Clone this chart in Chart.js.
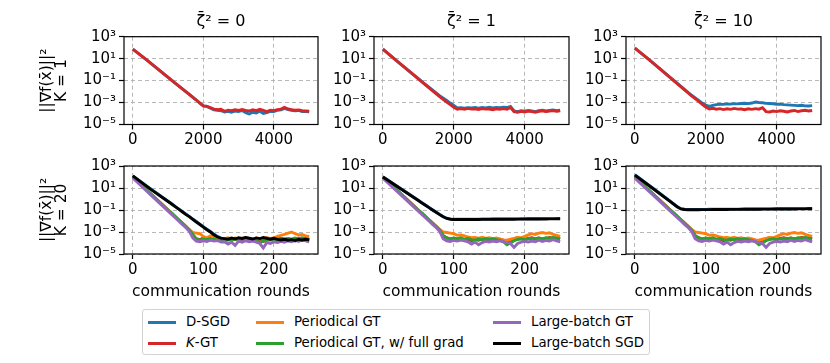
<!DOCTYPE html>
<html>
<head>
<meta charset="utf-8">
<script src="https://cdn.jsdelivr.net/npm/chart.js@4.4.1/dist/chart.umd.min.js"></script>
<style>
  body { margin: 0; background: #fff; width: 830px; height: 363px; overflow: hidden; position: relative; font-family: "DejaVu Sans", sans-serif; }
  #legend { position: absolute; left: 142px; top: 309px; width: 506px; height: 44px; border: 1px solid #d3d3d3; border-radius: 3px; font-size: 13.3px; }
  .item { position: absolute; white-space: nowrap; height: 16px; line-height: 16px; }
  .swatch { position: absolute; height: 2.8px; width: 28px; }
</style>
</head>
<body>
<div id="legend"></div>
<script>
// series shown in the legend
const seriesNames = ['D-SGD', '<i>K</i>-GT', 'Periodical GT', 'Periodical GT, w/ full grad', 'Large-batch GT', 'Large-batch SGD'];
const seriesColors = ['#1f77b4', '#d62728', '#ff7f0e', '#2ca02c', '#9467bd', '#000000'];
const zetaValues = ['0', '1', '10'];
const kValues = ['1', '20'];

// axes
const xTicksK1 = [0, 2000, 4000];
const xTicksK20 = [0, 100, 200];
const yTicks = [1e-5, 1e-3, 1e-1, 1e1, 1e3];
const yTickLabels = ['10⁻⁵', '10⁻³', '10⁻¹', '10¹', '10³'];

// communication rounds (x values)
const roundsK1 = [0, 400, 800, 1200, 1600, 1800, 1900, 2000, 2100, 2200, 2300, 2400, 2500, 2600, 2700, 2800, 2900, 3000,
  3100, 3200, 3300, 3400, 3500, 3600, 3700, 3800, 3900, 4000, 4100, 4200, 4300, 4400, 4500, 4600, 4700, 4800, 4900, 5000];
const roundsK20 = [0, 25, 50, 55, 60, 65, 70, 75, 80, 85, 90, 95, 100, 105, 110, 115, 120, 125, 130, 135, 140, 145, 150,
  155, 160, 165, 170, 175, 180, 185, 190, 195, 200, 205, 210, 215, 220, 225, 230, 235, 240, 245, 250];

// K = 1
const dsgdK1Z0 = [75, 7.2, 0.66, 0.06, 5.5e-3, 1.7e-3, 9e-4, 5e-4, 4.5e-4, 3e-4,
  2.2e-4, 2e-4, 1.8e-4, 1.4e-4, 1.6e-4, 1.3e-4, 1.7e-4, 1.5e-4, 1.9e-4, 1.2e-4,
  9e-5, 1.3e-4, 1.1e-4, 1.6e-4, 1e-4, 1.2e-4, 1.6e-4, 1.5e-4, 2e-4, 2.2e-4,
  3e-4, 2.3e-4, 2e-4, 1.8e-4, 1.9e-4, 1.5e-4, 1.5e-4, 1.4e-4];
const kgtK1Z0 = [75, 7.2, 0.66, 0.06, 5.5e-3, 1.7e-3, 9e-4, 5e-4, 4.5e-4, 3.5e-4,
  2.5e-4, 2.2e-4, 2.4e-4, 1.6e-4, 2e-4, 1.8e-4, 2.2e-4, 1.9e-4, 2.3e-4, 1.9e-4,
  1.7e-4, 2.2e-4, 1.8e-4, 2.4e-4, 1.9e-4, 1.5e-4, 2e-4, 1.8e-4, 2.3e-4, 2.5e-4,
  3.6e-4, 2.6e-4, 2.2e-4, 2e-4, 2.1e-4, 1.8e-4, 1.7e-4, 1.6e-4];
const dsgdK1Z1 = [75, 6, 0.5, 0.045, 4.2e-3, 1.6e-3, 9e-4, 5.5e-4, 3.2e-4, 3.4e-4,
  3e-4, 3.4e-4, 3.2e-4, 3.6e-4, 3.1e-4, 3.5e-4, 3.3e-4, 3.7e-4, 3.2e-4, 3.6e-4,
  3.4e-4, 3.8e-4, 3.5e-4, 4.5e-4, 1.7e-4, 1.5e-4, 1.8e-4, 1.6e-4, 1.9e-4, 1.7e-4,
  1.5e-4, 1.8e-4, 2e-4, 1.7e-4, 1.9e-4, 2.1e-4, 1.8e-4, 2e-4];
const kgtK1Z1 = [75, 6, 0.5, 0.04, 3.5e-3, 1.1e-3, 6.5e-4, 3.8e-4, 2.5e-4, 2.8e-4,
  2.4e-4, 2.9e-4, 2.5e-4, 2.7e-4, 2.3e-4, 2.8e-4, 2.5e-4, 2.6e-4, 2.2e-4, 2.7e-4,
  2.4e-4, 2.8e-4, 2.5e-4, 3.5e-4, 1.5e-4, 1.3e-4, 1.6e-4, 1.4e-4, 1.7e-4, 1.5e-4,
  1.3e-4, 1.6e-4, 1.8e-4, 1.5e-4, 1.7e-4, 1.9e-4, 1.6e-4, 1.8e-4];
const dsgdK1Z10 = [90, 8, 0.65, 0.055, 4.6e-3, 1.6e-3, 9e-4, 6e-4, 4.5e-4, 5.5e-4,
  6.5e-4, 7e-4, 6.8e-4, 7.5e-4, 7.2e-4, 8e-4, 7.6e-4, 8.2e-4, 8.5e-4, 8e-4,
  9e-4, 1.1e-3, 1e-3, 9.5e-4, 8.5e-4, 8.2e-4, 7.8e-4, 7e-4, 7.2e-4, 6.5e-4,
  6.2e-4, 5.8e-4, 5.5e-4, 5.2e-4, 5.6e-4, 5e-4, 4.8e-4, 5.2e-4];
const kgtK1Z10 = [90, 8, 0.65, 0.05, 4e-3, 1.3e-3, 7e-4, 4e-4, 2.6e-4, 3e-4,
  2.5e-4, 2.8e-4, 2.3e-4, 2.7e-4, 2.4e-4, 2.9e-4, 2.5e-4, 2.6e-4, 2.2e-4, 2.7e-4,
  2.4e-4, 2.8e-4, 2.5e-4, 3.4e-4, 1.5e-4, 1.4e-4, 1.7e-4, 1.5e-4, 1.8e-4, 1.6e-4,
  1.4e-4, 1.7e-4, 1.9e-4, 1.5e-4, 1.8e-4, 2e-4, 1.7e-4, 1.9e-4];

// K = 20, zeta = 0
const dsgdK20Z0 = [125, 8.5, 0.62, 0.37, 0.21, 0.125, 0.074, 0.043, 0.026, 0.015,
  9e-3, 5.2e-3, 3.1e-3, 1.8e-3, 1.1e-3, 6.5e-4, 4e-4, 2.8e-4,
  2.4e-4, 2e-4, 2.5e-4, 2.1e-4, 2.7e-4, 2.2e-4, 2.8e-4, 2.3e-4, 2e-4, 2.5e-4, 2.2e-4, 2.7e-4, 2.3e-4,
  1.9e-4, 2.4e-4, 1.9e-4, 1.7e-4, 2e-4, 1.6e-4, 1.8e-4, 1.5e-4, 1.9e-4, 1.7e-4, 2e-4, 1.7e-4];
const kgtK20Z0 = [100, 3.1, 0.1, 0.052, 0.026, 0.013, 6.5e-3, 3.2e-3, 1.5e-3, 5e-4,
  2.5e-4, 2e-4, 2.8e-4, 2.2e-4, 1.9e-4, 2.4e-4, 2e-4, 1.7e-4, 2.2e-4, 1.9e-4, 2.6e-4, 2.1e-4, 1.8e-4,
  2.2e-4, 1.9e-4, 2.4e-4, 2e-4, 1.5e-4, 1.8e-4, 1.4e-4, 1.7e-4, 2.1e-4, 1.8e-4, 2.3e-4, 2.7e-4,
  2.2e-4, 2.5e-4, 2e-4, 2.4e-4, 2.8e-4, 2.3e-4, 2.6e-4, 2.1e-4];
const pgtK20Z0 = [100, 3.2, 0.1, 0.053, 0.027, 0.013, 6.8e-3, 3.4e-3, 1.7e-3, 9e-4,
  8e-4, 7e-4, 4e-4, 3e-4, 4.5e-4, 5e-4, 3e-4, 2.2e-4, 2.5e-4, 3e-4, 2.4e-4, 2.8e-4, 2.2e-4,
  2.6e-4, 3.2e-4, 2.5e-4, 2e-4, 2.8e-4, 2.3e-4, 2.6e-4, 3.2e-4, 2.5e-4, 3e-4, 4e-4, 5e-4,
  6e-4, 8e-4, 1e-3, 7e-4, 5.5e-4, 6e-4, 4.5e-4, 4e-4];
const pgtFullK20Z0 = [100, 3.2, 0.1, 0.052, 0.026, 0.013, 6.6e-3, 3.3e-3, 1.6e-3, 6e-4,
  2.2e-4, 1.8e-4, 2.3e-4, 2e-4, 2.6e-4, 2.2e-4, 1.7e-4, 2e-4, 1.6e-4, 2.1e-4, 1.8e-4, 2.3e-4, 2e-4,
  2.4e-4, 2.1e-4, 1.8e-4, 2.2e-4, 1.6e-4, 1.1e-4, 1.5e-4, 2e-4, 2.3e-4, 1.9e-4, 2.2e-4, 2.5e-4,
  2.1e-4, 2.6e-4, 2.2e-4, 2.8e-4, 2.4e-4, 3e-4, 2.5e-4, 2.2e-4];
const lbgtK20Z0 = [80, 2.5, 0.08, 0.04, 0.02, 0.01, 5e-3, 2.6e-3, 1.2e-3, 3e-4,
  1.5e-4, 1.3e-4, 1.6e-4, 1.4e-4, 1.8e-4, 1.5e-4, 1.7e-4, 1.2e-4, 1.3e-4, 8e-5, 1.2e-4, 6e-5, 1.5e-4,
  1.2e-4, 1.6e-4, 1.3e-4, 1.5e-4, 1.2e-4, 9e-5, 3.5e-5, 1.1e-4, 9e-5, 1.3e-4, 1.1e-4, 1.4e-4,
  1.2e-4, 1.6e-4, 1.3e-4, 1.8e-4, 1.4e-4, 2e-4, 1.6e-4, 1.3e-4];
const lbsgdK20Z0 = [125, 8, 0.6, 0.35, 0.2, 0.12, 0.07, 0.04, 0.025, 0.014,
  8e-3, 4.8e-3, 2.8e-3, 1.6e-3, 1e-3, 5.5e-4, 3.5e-4, 2.8e-4,
  2.5e-4, 2.2e-4, 2.8e-4, 2.4e-4, 3e-4, 2.6e-4, 3.2e-4, 2.7e-4, 2.3e-4, 2.9e-4, 2.5e-4, 3.1e-4, 2.6e-4,
  2.2e-4, 2.7e-4, 2.1e-4, 1.9e-4, 2.2e-4, 1.8e-4, 2e-4, 1.7e-4, 2.1e-4, 1.9e-4, 2.2e-4, 1.9e-4];

// K = 20, zeta = 1 and 10 (the tracking methods look the same in both panels)
const kgtK20Het = [100, 3.1, 0.1, 0.052, 0.026, 0.013, 6.5e-3, 3.2e-3, 1.5e-3, 4.5e-4,
  3e-4, 2.4e-4, 2.7e-4, 2.1e-4, 2.5e-4, 1.9e-4, 2.2e-4, 1.6e-4, 2e-4, 1.8e-4, 2.4e-4, 2e-4, 1.7e-4,
  2.2e-4, 1.9e-4, 2.3e-4, 1.8e-4, 1.5e-4, 1.7e-4, 2.5e-4, 3e-4, 2.4e-4, 2.2e-4, 2.6e-4, 3e-4,
  2.5e-4, 2.8e-4, 2.3e-4, 2.6e-4, 3.2e-4, 2.7e-4, 2.9e-4, 2.4e-4];
const pgtK20Het = [100, 3.2, 0.1, 0.053, 0.027, 0.013, 6.8e-3, 3.4e-3, 1.7e-3, 1e-3,
  9e-4, 8e-4, 7e-4, 5e-4, 5.5e-4, 4.5e-4, 3.5e-4, 3e-4, 3.2e-4, 2.8e-4, 3.3e-4, 2.6e-4, 3e-4,
  2.5e-4, 2.8e-4, 2.2e-4, 1.9e-4, 1.8e-4, 2.2e-4, 2.6e-4, 3.2e-4, 3e-4, 4e-4, 5.5e-4, 7e-4,
  6e-4, 8e-4, 9e-4, 7.5e-4, 8.5e-4, 6e-4, 5e-4, 4e-4];
const pgtFullK20Het = [100, 3.2, 0.1, 0.052, 0.026, 0.013, 6.6e-3, 3.3e-3, 1.6e-3, 5e-4,
  2.8e-4, 2.4e-4, 2.9e-4, 2.5e-4, 3e-4, 2.2e-4, 2.6e-4, 2e-4, 1.8e-4, 2.3e-4, 2e-4, 2.5e-4, 2.1e-4,
  2.4e-4, 2e-4, 1.7e-4, 1.3e-4, 7e-5, 1e-4, 1.6e-4, 2.1e-4, 2.4e-4, 2e-4, 2.3e-4, 2.7e-4,
  2.3e-4, 2.8e-4, 2.4e-4, 3e-4, 2.6e-4, 3.2e-4, 2.7e-4, 2.3e-4];
const lbgtK20Het = [80, 2.5, 0.08, 0.04, 0.02, 0.01, 5e-3, 2.6e-3, 1.2e-3, 2.5e-4,
  1.6e-4, 1.4e-4, 1.7e-4, 1.5e-4, 1.8e-4, 1.6e-4, 1.3e-4, 8e-5, 1.2e-4, 7e-5, 1.1e-4, 1.4e-4, 1.2e-4,
  1.5e-4, 1.3e-4, 1.6e-4, 1.3e-4, 1.1e-4, 9e-5, 4e-5, 9e-5, 1.2e-4, 1.4e-4, 1.2e-4, 1.5e-4,
  1.3e-4, 1.8e-4, 1.4e-4, 1.7e-4, 1.5e-4, 2e-4, 1.6e-4, 1.3e-4];
const dsgdK20Z1 = [105, 9, 0.76, 0.47, 0.29, 0.175, 0.107, 0.066, 0.041, 0.026,
  0.018, 0.0155, 0.0148, 0.0145, 0.0145, 0.0146, 0.0147, 0.0147, 0.0148, 0.0149, 0.015, 0.015, 0.0151,
  0.0152, 0.0152, 0.0153, 0.0154, 0.0155, 0.0156, 0.0156, 0.0157, 0.0158, 0.0159, 0.016, 0.016,
  0.0161, 0.0162, 0.0163, 0.0164, 0.0165, 0.0166, 0.0167, 0.0168];
const lbsgdK20Z1 = [100, 8.5, 0.72, 0.44, 0.27, 0.165, 0.1, 0.062, 0.038, 0.024,
  0.017, 0.0145, 0.0138, 0.0135, 0.0135, 0.0136, 0.0137, 0.0137, 0.0138, 0.0139, 0.014, 0.014, 0.0141,
  0.0142, 0.0142, 0.0143, 0.0144, 0.0145, 0.0146, 0.0146, 0.0147, 0.0148, 0.0149, 0.015, 0.015,
  0.0151, 0.0152, 0.0153, 0.0154, 0.0155, 0.0156, 0.0157, 0.0158];
const dsgdK20Z10 = [160, 10, 0.62, 0.35, 0.2, 0.132,
  0.117, 0.114, 0.113, 0.113, 0.114, 0.115, 0.115, 0.116, 0.117, 0.117, 0.118, 0.119, 0.119, 0.12,
  0.121, 0.121, 0.122, 0.123, 0.123, 0.124, 0.125, 0.125, 0.126, 0.127, 0.127, 0.128, 0.129, 0.129,
  0.13, 0.131, 0.131, 0.132, 0.133, 0.133, 0.134, 0.135, 0.135];
const lbsgdK20Z10 = [150, 9.5, 0.58, 0.33, 0.19, 0.125,
  0.11, 0.107, 0.106, 0.106, 0.107, 0.108, 0.108, 0.109, 0.11, 0.11, 0.111, 0.112, 0.112, 0.113,
  0.114, 0.114, 0.115, 0.116, 0.116, 0.117, 0.118, 0.118, 0.119, 0.12, 0.12, 0.121, 0.122, 0.122,
  0.123, 0.124, 0.124, 0.125, 0.126, 0.126, 0.127, 0.128, 0.128];

const panels = [
  { row: 0, col: 0, x: roundsK1, series: [dsgdK1Z0, kgtK1Z0] },
  { row: 0, col: 1, x: roundsK1, series: [dsgdK1Z1, kgtK1Z1] },
  { row: 0, col: 2, x: roundsK1, series: [dsgdK1Z10, kgtK1Z10] },
  { row: 1, col: 0, x: roundsK20, series: [dsgdK20Z0, kgtK20Z0, pgtK20Z0, pgtFullK20Z0, lbgtK20Z0, lbsgdK20Z0] },
  { row: 1, col: 1, x: roundsK20, series: [dsgdK20Z1, kgtK20Het, pgtK20Het, pgtFullK20Het, lbgtK20Het, lbsgdK20Z1] },
  { row: 1, col: 2, x: roundsK20, series: [dsgdK20Z10, kgtK20Het, pgtK20Het, pgtFullK20Het, lbgtK20Het, lbsgdK20Z10] }
];

// canvas placement
const colBox = [
  { left: 0, width: 330, yw: 124, pr: 12 },
  { left: 322, width: 258, yw: 52, pr: 11 },
  { left: 576, width: 254, yw: 50, pr: 9 }
];
const rowBox = [
  { top: 0, height: 144, pt: 0, xh: 19.5 },
  { top: 150, height: 155, pt: 16, xh: 51 }
];

Chart.defaults.font.family = 'DejaVu Sans';
Chart.defaults.color = '#000';

const framePlugin = {
  id: 'frame',
  afterDraw(chart) {
    const { ctx, chartArea: a } = chart;
    ctx.save();
    ctx.strokeStyle = '#000';
    ctx.lineWidth = 1.2;
    ctx.strokeRect(a.left, a.top, a.right - a.left, a.bottom - a.top);
    ctx.restore();
  }
};

const gridOpts = { color: '#b0b0b0', lineWidth: 0.9, tickColor: '#000', tickWidth: 1.2, tickLength: 5, tickBorderDash: [] };

function makePanel(p) {
  const c = colBox[p.col], r = rowBox[p.row];
  const cv = document.createElement('canvas');
  cv.width = c.width;
  cv.height = r.height;
  cv.style.cssText = 'position:absolute;left:' + c.left + 'px;top:' + r.top + 'px';
  document.body.appendChild(cv);

  const xTicks = p.row === 0 ? xTicksK1 : xTicksK20;
  const xMax = p.x[p.x.length - 1];

  const datasets = p.series.map((vals, i) => ({
    label: seriesNames[i],
    data: vals.map((v, j) => ({ x: p.x[j], y: v })),
    borderColor: seriesColors[i],
    borderWidth: 2.9,
    pointRadius: 0,
    tension: 0,
    fill: false,
    order: -i
  }));

  new Chart(cv, {
    type: 'line',
    data: { datasets },
    plugins: [framePlugin],
    options: {
      responsive: false,
      animation: false,
      devicePixelRatio: 1,
      layout: { padding: { top: r.pt, right: c.pr, left: 0, bottom: 0 } },
      plugins: {
        legend: { display: false },
        tooltip: { enabled: false },
        title: {
          display: p.row === 0,
          fullSize: false,
          text: 'ζ\u0304² = ' + zetaValues[p.col],
          font: { size: 16, weight: 'normal' },
          padding: { top: 12.4, bottom: 5.1 }
        }
      },
      scales: {
        x: {
          type: 'linear',
          min: -0.05 * xMax,
          max: 1.05 * xMax,
          afterBuildTicks: s => { s.ticks = xTicks.map(v => ({ value: v })); },
          afterFit: s => { s.height = r.xh; },
          ticks: { font: { size: 15 }, padding: 2, maxRotation: 0, autoSkip: false, callback: (v, i) => String(xTicks[i]) },
          grid: gridOpts,
          border: { display: false, dash: [4, 3] },
          title: {
            display: p.row === 1,
            text: 'communication rounds',
            font: { size: 15.5 },
            padding: { top: 0, bottom: 4 }
          }
        },
        y: {
          type: 'logarithmic',
          min: 1e-5,
          max: 1e3,
          afterBuildTicks: s => { s.ticks = yTicks.map(v => ({ value: v })); },
          afterFit: s => { s.width = c.yw; },
          ticks: { font: { size: 15 }, padding: 3, autoSkip: false, callback: (v, i) => yTickLabels[i] },
          grid: gridOpts,
          border: { display: false, dash: [4, 3] },
          title: {
            display: p.col === 0,
            text: ['||∇f(x\u0304)||²', 'K = ' + kValues[p.row]],
            font: { size: 15.5, lineHeight: 1 },
            padding: { top: 39, bottom: 0 }
          }
        }
      }
    }
  });
}

panels.forEach(makePanel);

// legend, three columns filled top to bottom
const legend = document.getElementById('legend');
const legendCols = [5, 113, 350];
seriesNames.forEach((name, i) => {
  const col = Math.floor(i / 2), row = i % 2;
  const sw = document.createElement('div');
  sw.className = 'swatch';
  sw.style.left = legendCols[col] + 'px';
  sw.style.top = (11 + row * 21) + 'px';
  sw.style.background = seriesColors[i];
  legend.appendChild(sw);
  const t = document.createElement('div');
  t.className = 'item';
  t.style.left = (legendCols[col] + 38) + 'px';
  t.style.top = (4 + row * 21) + 'px';
  t.innerHTML = name;
  legend.appendChild(t);
});
</script>
</body>
</html>
